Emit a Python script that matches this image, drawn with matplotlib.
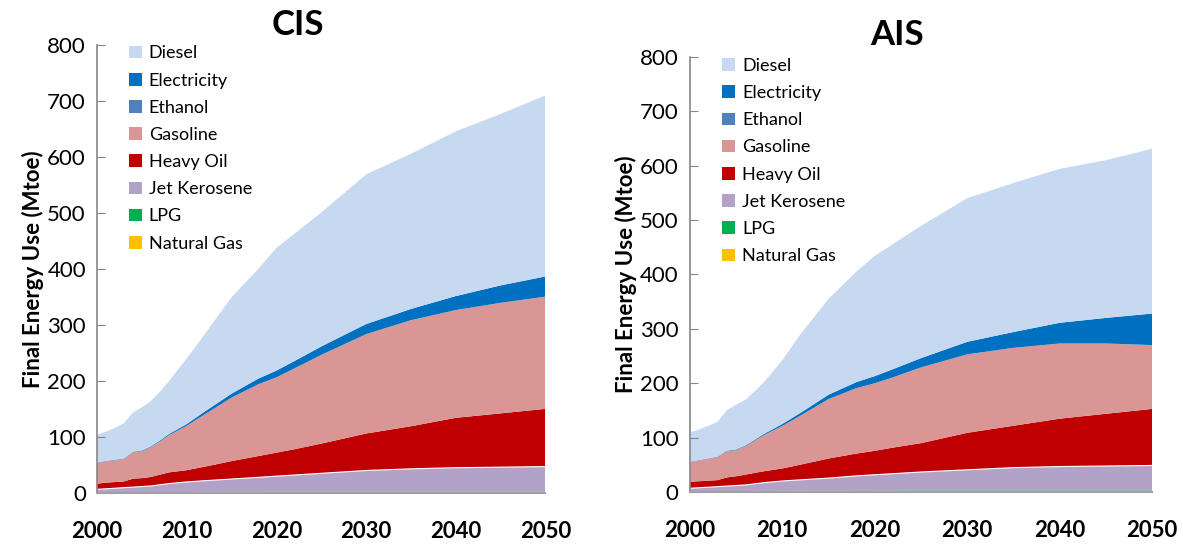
import numpy as np
import matplotlib
matplotlib.use("Agg")
import matplotlib.pyplot as plt
from matplotlib.patches import Patch

plt.rcParams["font.family"] = ["Lato", "DejaVu Sans"]

# ---- Datos (Mtoe) ----
years = [2000, 2001, 2002, 2003, 2004, 2005, 2006, 2007, 2008, 2010, 2012,
         2015, 2018, 2020, 2022, 2025, 2030, 2035, 2040, 2045, 2050]
fuels = ["Diesel", "Electricity", "Ethanol", "Gasoline", "Heavy Oil",
         "Jet Kerosene", "LPG", "Natural Gas"]
colors = ["#C6D9F0", "#0070C0", "#4F81BD", "#D99694", "#C00000",
          "#B3A2C7", "#00B050", "#FFC000"]

# CIS
cis_diesel = [50, 52, 57, 63, 70, 77, 81, 87, 94, 117, 138, 172, 196, 219, 227, 239, 267, 277, 294, 306, 323]
cis_elec = [0.5, 0.5, 0.6, 0.7, 0.8, 1, 1.2, 1.5, 2, 3, 5, 7, 10, 12, 13, 15, 18, 20, 25, 31, 36]
cis_ethanol = [0.3, 0.3, 0.3, 0.3, 0.3, 0.3, 0.3, 0.3, 0.3, 0.3, 0.3, 0.3, 0.3, 0.3, 0.3, 0.3, 0.3, 0.3, 0.3, 0.3, 0.3]
cis_gasoline = [37, 38, 39, 40, 47, 48, 53, 59, 66, 79, 93, 113, 128, 134, 144, 158, 177, 189, 192, 197, 200]
cis_heavy = [10, 11, 11, 11, 15, 15, 16, 18, 20, 21, 25, 32, 38, 42, 46, 53, 66, 76, 89, 96, 103]
cis_jet = [5, 6, 7, 8, 9, 10, 11, 13, 15, 18, 20, 23, 26, 28, 30, 33, 38, 41, 43, 44, 45]
cis_lpg = [0.8, 0.8, 0.8, 0.8, 0.8, 0.8, 0.8, 0.9, 0.9, 0.9, 1.0, 1.0, 1.0, 1.0, 1.0, 1.0, 1.0, 1.0, 1.0, 1.0, 1.0]
cis_ng = [0.8, 0.8, 0.8, 0.8, 0.8, 0.8, 0.8, 0.8, 0.9, 0.9, 1.0, 1.0, 1.0, 1.1, 1.1, 1.2, 1.2, 1.2, 1.2, 1.2, 1.2]

# AIS
ais_diesel = [54, 56, 60, 64, 74, 82, 84, 89, 95, 117, 145, 176, 203, 221, 230, 243, 264, 274, 283, 290, 303]
ais_elec = [0.5, 0.5, 0.6, 0.7, 0.8, 1, 1.2, 1.5, 2, 3.5, 5, 8, 11, 13, 15, 17, 23, 29, 38, 47, 58]
ais_ethanol = [0.3, 0.3, 0.3, 0.3, 0.3, 0.3, 0.3, 0.3, 0.3, 0.3, 0.3, 0.3, 0.3, 0.3, 0.3, 0.3, 0.3, 0.3, 0.3, 0.3, 0.3]
ais_gasoline = [36, 38, 40, 42, 48, 48, 52, 59, 66, 78, 90, 109, 120, 124, 129, 139, 144, 143, 138, 129, 117]
ais_heavy = [12, 12, 12, 12, 16, 17, 19, 20, 21, 23, 28, 36, 41, 44, 48, 53, 68, 77, 88, 96, 104]
ais_jet = [5, 6, 7, 8, 9, 10, 11, 13, 15, 18, 20, 23, 27, 29, 31, 34, 38, 42, 44, 45, 46]
ais_lpg = [0.9, 0.9, 0.9, 0.9, 0.9, 1.0, 1.0, 1.1, 1.1, 1.2, 1.3, 1.4, 1.5, 1.6, 1.6, 1.6, 1.6, 1.6, 1.6, 1.6, 1.6]
ais_ng = [0.8, 0.8, 0.8, 0.8, 0.8, 0.8, 0.8, 0.8, 0.9, 0.9, 1.0, 1.0, 1.0, 1.0, 1.0, 1.1, 1.1, 1.1, 1.1, 1.1, 1.1]

cis = [cis_diesel, cis_elec, cis_ethanol, cis_gasoline, cis_heavy, cis_jet, cis_lpg, cis_ng]
ais = [ais_diesel, ais_elec, ais_ethanol, ais_gasoline, ais_heavy, ais_jet, ais_lpg, ais_ng]

fig = plt.figure(figsize=(11.83, 5.46), dpi=100)
fig.patch.set_facecolor("white")
ax1 = fig.add_axes([0.082, 0.097, 0.379, 0.821])
ax2 = fig.add_axes([0.583, 0.099, 0.391, 0.797])


def draw(ax, series, title, title_y):
    # apilado: de abajo (Natural Gas) hacia arriba (Diesel)
    ys = series[::-1]
    cols = colors[::-1]
    ax.stackplot(years, *ys, colors=cols, linewidth=0)
    # linea blanca fina entre Jet Kerosene y Heavy Oil
    jet_top = np.sum(np.array(ys[:3]), axis=0)
    ax.plot(years, jet_top, color="white", lw=0.8)

    ax.set_xlim(2000, 2050)
    ax.set_ylim(0, 800)
    ax.set_yticks(range(0, 801, 100))
    ax.set_xticks(range(2000, 2051, 10))
    ax.tick_params(axis="y", direction="in", length=6, color="#868686",
                   labelsize=16, pad=8)
    ax.tick_params(axis="x", length=0, labelsize=16, pad=20)
    for lab in ax.get_xticklabels():
        lab.set_fontweight("bold")
    for s in ["top", "right"]:
        ax.spines[s].set_visible(False)
    ax.spines["left"].set_color("#868686")
    ax.spines["bottom"].set_color("#A0A0A0")
    ax.spines["left"].set_linewidth(1.2)
    ax.spines["bottom"].set_linewidth(1.5)
    ax.set_ylabel("Final Energy Use (Mtoe)", fontsize=16, fontweight="bold", labelpad=2)
    fig.text((ax.get_position().x0 + ax.get_position().x1) / 2 - 0.02, title_y, title,
             ha="center", va="center", fontsize=25, fontweight="bold")

    handles = [Patch(facecolor=c, edgecolor="none") for c in colors]
    ax.legend(handles, fuels, loc="upper left", bbox_to_anchor=(0.035, 1.035),
              frameon=False, fontsize=13, handlelength=0.7, handleheight=0.7,
              handletextpad=0.4, labelspacing=0.62)


draw(ax1, cis, "CIS", 0.955)
draw(ax2, ais, "AIS", 0.935)

fig.savefig("out.png", dpi=100, facecolor="white")
